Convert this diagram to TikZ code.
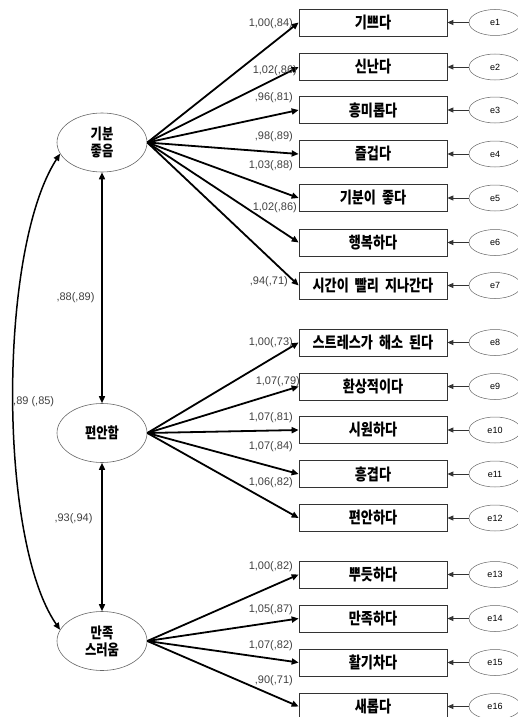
\documentclass[tikz,border=0pt]{standalone}
\usepackage{fontspec}
\newfontfamily\kr[FakeStretch=0.82,WordSpace=2]{Noto Sans CJK KR}
\newfontfamily\labfont{Liberation Sans}
\usetikzlibrary{shapes.geometric,arrows.meta}
\tikzset{
  obsbox/.style={draw=black!80, line width=0.7pt, minimum width=148pt, minimum height=27pt, inner sep=0pt, font=\kr\bfseries\fontsize{16}{16}\selectfont},
  latell/.style={ellipse, draw=black!60, line width=0.6pt, minimum width=90pt, minimum height=59pt, inner sep=0pt, align=center, font=\kr\bfseries\fontsize{15}{17}\selectfont},
  errell/.style={ellipse, draw=black!60, line width=0.5pt, minimum width=52pt, minimum height=26pt, inner sep=0pt, font=\labfont\fontsize{9}{9}\selectfont},
  loadarrow/.style={line width=1.8pt, -{Triangle[length=7pt,width=6pt]}},
  errarrow/.style={line width=0.9pt, draw=black!80, -{Triangle[length=6pt,width=5pt]}},
  corarrow/.style={line width=1.5pt, {Triangle[length=7pt,width=6pt]}-{Triangle[length=7pt,width=6pt]}},
  numlab/.style={font=\labfont\fontsize{11}{11}\selectfont, text=black!75, inner sep=0pt},
}
\begin{document}
\begin{tikzpicture}[x=1pt,y=-1pt]
\useasboundingbox (0,0) rectangle (518,717);
\begin{scope}
\clip (0,0) rectangle (518,717);
% latent variables
\node[latell] (L1) at (102,142.5) {기분\\좋음};
\node[latell] (L2) at (102,433) {편안함};
\node[latell] (L3) at (102,641) {만족\\스러움};
% observed
\node[obsbox] (o1) at (373,22.5) {기쁘다};
\node[obsbox] (o2) at (373,67) {신난다};
\node[obsbox] (o3) at (373,110) {흥미롭다};
\node[obsbox] (o4) at (373,154) {즐겁다};
\node[obsbox] (o5) at (373,198) {기분이 좋다};
\node[obsbox] (o6) at (373,242.5) {행복하다};
\node[obsbox] (o7) at (373,285.5) {시간이 빨리 지나간다};
\node[obsbox] (o8) at (373,342.5) {스트레스가 해소 된다};
\node[obsbox] (o9) at (373,386.5) {환상적이다};
\node[obsbox] (o10) at (373,430) {시원하다};
\node[obsbox] (o11) at (373,474) {흥겹다};
\node[obsbox] (o12) at (373,518) {편안하다};
\node[obsbox] (o13) at (373,574.5) {뿌듯하다};
\node[obsbox] (o14) at (373,618.5) {만족하다};
\node[obsbox] (o15) at (373,662.5) {활기차다};
\node[obsbox] (o16) at (373,706.5) {새롭다};
% errors
\foreach \i/\y in {1/22.5,2/67,3/110,4/154,5/198,6/242.5,7/285.5,8/342.5,9/386.5,10/430,11/474,12/518,13/574.5,14/618.5,15/662.5,16/706.5}{
  \node[errell] (e\i) at (495,\y) {e\i};
  \draw[errarrow] (e\i.west) -- (o\i.east);
}
% loadings
\foreach \i in {1,...,7}{\draw[loadarrow] (L1.east) -- (o\i.west);}
\foreach \i in {8,...,12}{\draw[loadarrow] (L2.east) -- (o\i.west);}
\foreach \i in {13,...,16}{\draw[loadarrow] (L3.east) -- (o\i.west);}
% correlations
\draw[corarrow] (L1.south) -- (L2.north);
\draw[corarrow] (L2.south) -- (L3.north);
\draw[corarrow] (L1.195) .. controls (-2,250) and (-2,540) .. (L3.165);
% labels
\node[numlab, anchor=east] (n1) at (293,24) {1,00(,84)};
\node[numlab, anchor=east] (n2) at (297,71) {1,02(,86)};
\node[numlab, anchor=east] (n3) at (293,98) {,96(,81)};
\node[numlab, anchor=east] (n4) at (293,137) {,98(,89)};
\node[numlab, anchor=east] (n5) at (293,166) {1,03(,88)};
\node[numlab, anchor=east] (n6) at (297,208) {1,02(,86)};
\node[numlab, anchor=east] (n7) at (288,282) {,94(,71)};
\node[numlab, anchor=east] (n8) at (293,343) {1,00(,73)};
\node[numlab, anchor=east] (n9) at (300,382) {1,07(,79)};
\node[numlab, anchor=east] (n10) at (293,418) {1,07(,81)};
\node[numlab, anchor=east] (n11) at (293,447) {1,07(,84)};
\node[numlab, anchor=east] (n12) at (293,483) {1,06(,82)};
\node[numlab, anchor=east] (n13) at (293,567) {1,00(,82)};
\node[numlab, anchor=east] (n14) at (293,610) {1,05(,87)};
\node[numlab, anchor=east] (n15) at (293,646) {1,07(,82)};
\node[numlab, anchor=east] (n16) at (293,681) {,90(,71)};
\node[numlab] (c1) at (75.5,298) {,88(,89)};
\node[numlab] (c2) at (73.5,519) {,93(,94)};
\node[numlab, anchor=west] (c3) at (13,402) {,89 (,85)};
\end{scope}
\end{tikzpicture}
\end{document}
